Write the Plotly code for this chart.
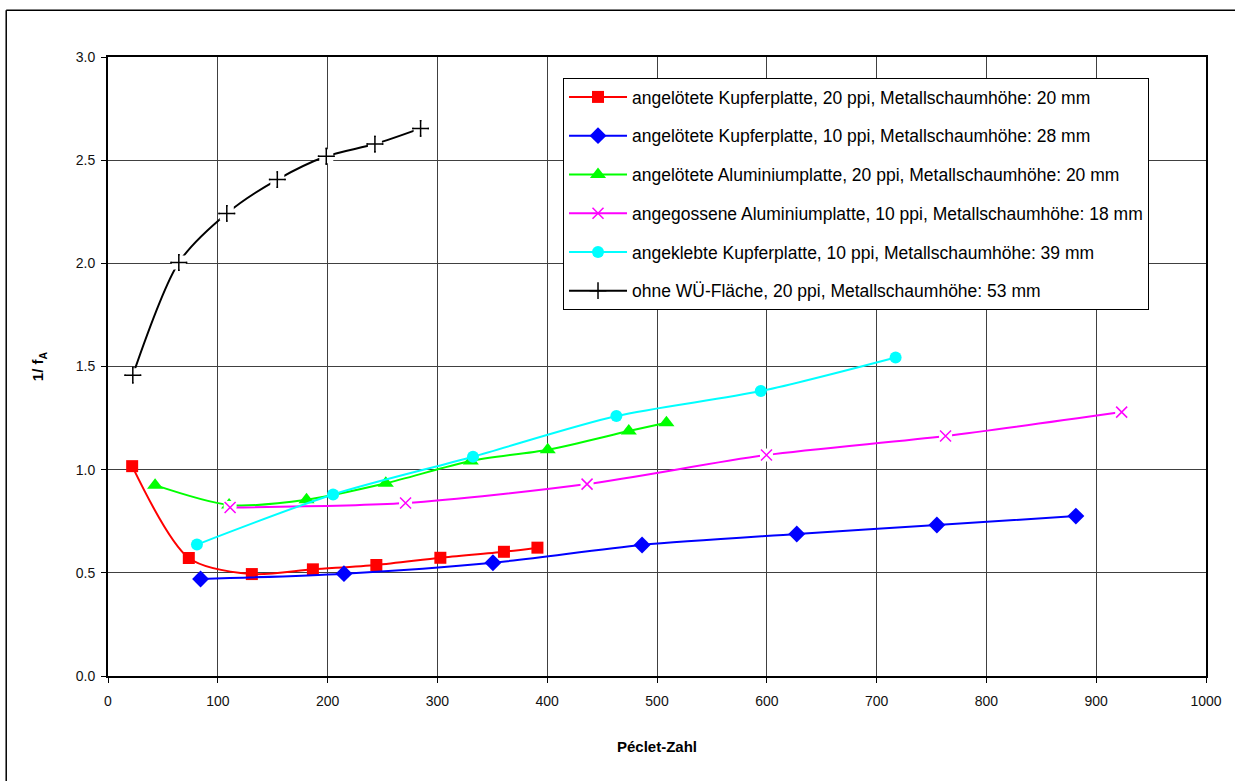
import plotly.graph_objects as go

# Péclet number vs. 1/f_A for the tested heat-exchanger variants
red_x = [22.0, 73.6, 131.0, 186.6, 244.4, 302.7, 360.6, 391.1]
red_y = [1.017, 0.572, 0.494, 0.517, 0.538, 0.573, 0.602, 0.622]

blue_x = [84.3, 214.9, 350.6, 486.4, 627.3, 754.9, 881.5]
blue_y = [0.470, 0.496, 0.549, 0.635, 0.688, 0.732, 0.775]

green_x = [42.9, 110.3, 180.8, 253.0, 330.4, 400.5, 474.3, 508.6]
green_y = [0.925, 0.829, 0.854, 0.934, 1.042, 1.097, 1.187, 1.227]

magenta_x = [111.2, 271.0, 436.3, 599.7, 762.8, 923.2]
magenta_y = [0.817, 0.838, 0.930, 1.071, 1.163, 1.279]

cyan_x = [81.0, 205.0, 332.4, 463.0, 594.5, 717.3]
cyan_y = [0.637, 0.880, 1.063, 1.260, 1.381, 1.544]

black_x = [22.6, 64.5, 108.2, 154.2, 198.8, 243.1, 284.7]
black_y = [1.458, 2.004, 2.242, 2.406, 2.519, 2.578, 2.654]

names = [
    "angelötete Kupferplatte, 20 ppi, Metallschaumhöhe: 20 mm",
    "angelötete Kupferplatte, 10 ppi, Metallschaumhöhe: 28 mm",
    "angelötete Aluminiumplatte, 20 ppi, Metallschaumhöhe: 20 mm",
    "angegossene Aluminiumplatte, 10 ppi, Metallschaumhöhe: 18 mm",
    "angeklebte Kupferplatte, 10 ppi, Metallschaumhöhe: 39 mm",
    "ohne WÜ-Fläche, 20 ppi, Metallschaumhöhe: 53 mm",
]

x_ticks = list(range(0, 1001, 100))
y_ticks = [0.0, 0.5, 1.0, 1.5, 2.0, 2.5, 3.0]

series = [
    (red_x, red_y, "#FF0000", "square", 12, False),
    (blue_x, blue_y, "#0000FF", "diamond", 13, False),
    (green_x, green_y, "#00FF00", "triangle-up", 14, False),
    (magenta_x, magenta_y, "#FF00FF", "x-thin", 11, True),
    (cyan_x, cyan_y, "#00FFFF", "circle", 12, False),
    (black_x, black_y, "#000000", "cross-thin", 12, True),
]

fig = go.Figure()
for i, (xs, ys, col, sym, size, thin) in enumerate(series):
    grp = f"g{i}"
    fig.add_trace(go.Scatter(
        x=xs, y=ys, name=names[i], legendgroup=grp,
        mode="lines+markers",
        line=dict(color=col, width=2, shape="spline", smoothing=0.8),
        marker=dict(symbol=sym, size=size, color=col,
                    line=dict(color=col, width=1.5 if thin else 0)),
    ))
    if thin:
        # white patch under line-only symbols so the curve breaks at each point
        fig.add_trace(go.Scatter(
            x=xs, y=ys, legendgroup=grp, showlegend=False, mode="markers",
            marker=dict(symbol="square", size=size + 2, color="white"),
            hoverinfo="skip",
        ))
        fig.add_trace(go.Scatter(
            x=xs, y=ys, legendgroup=grp, showlegend=False, mode="markers",
            marker=dict(symbol=sym, size=size, color=col,
                        line=dict(color=col, width=1.5)),
            hoverinfo="skip",
        ))

axis_common = dict(
    showline=True, linecolor="black", linewidth=2, mirror=True,
    showgrid=True, gridcolor="#404040", gridwidth=1,
    ticks="outside", ticklen=5, tickcolor="black", tickwidth=1,
    zeroline=False,
    tickfont=dict(family="Arial", size=14, color="#111111"),
)

fig.update_xaxes(
    range=[0, 1000], tickvals=x_ticks, ticktext=[str(v) for v in x_ticks],
    ticklabelstandoff=6,
    title=dict(text="<b>Péclet-Zahl</b>", font=dict(family="Arial", size=15, color="black"),
               standoff=34),
    **axis_common,
)
fig.update_yaxes(
    range=[0, 3.0], tickvals=y_ticks, ticktext=[f"{v:.1f}" for v in y_ticks],
    ticklabelstandoff=3,
    title=dict(text="<b>1/ f<sub>A</sub></b>", font=dict(family="Arial", size=15, color="black"),
               standoff=28),
    **axis_common,
)

fig.update_layout(
    width=1235, height=781,
    margin=dict(l=108, r=29, t=57, b=105),
    paper_bgcolor="white", plot_bgcolor="white",
    showlegend=True,
    legend=dict(
        x=0.4144, y=0.966, xanchor="left", yanchor="top",
        bgcolor="white", bordercolor="black", borderwidth=1,
        font=dict(family="Arial", size=17.5, color="black"),
        traceorder="grouped", tracegroupgap=13,
        itemwidth=58,
    ),
    shapes=[
        dict(type="line", xref="paper", yref="paper",
             x0=-0.0927, x1=1.05, y0=1.0756, y1=1.0756,
             line=dict(color="black", width=1.5)),
        dict(type="line", xref="paper", yref="paper",
             x0=-0.0927, x1=-0.0927, y0=1.0756, y1=-0.2,
             line=dict(color="black", width=1.5)),
    ],
)

fig.write_html("out.html")
